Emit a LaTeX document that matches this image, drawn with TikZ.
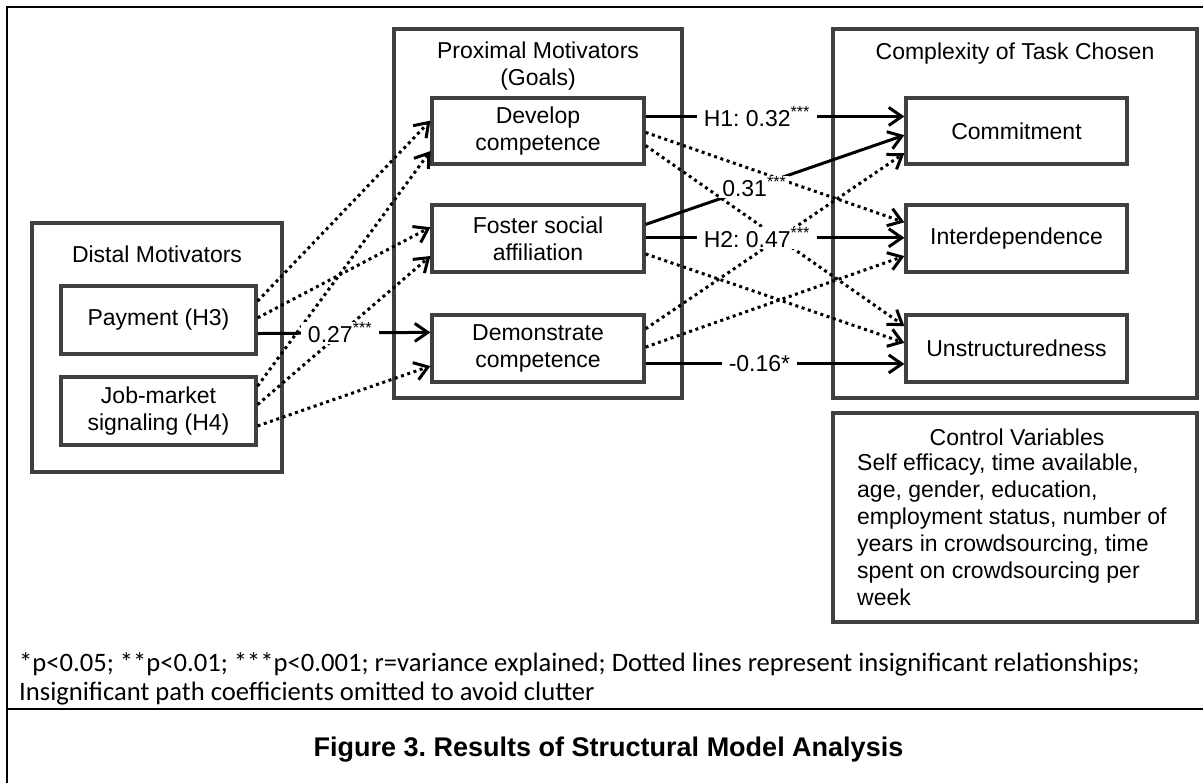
\documentclass[tikz,border=0pt]{standalone}
\usepackage{fontspec}
\setmainfont{Liberation Sans}
\newfontfamily\notefont{Carlito}
\usetikzlibrary{arrows.meta, calc}
\definecolor{boxgray}{HTML}{404040}
\frenchspacing

\tikzset{
    box/.style={draw=boxgray, line width=3.2pt, inner sep=0pt, align=center},
    sig/.style={line width=3pt, -{Straight Barb[length=13pt, width=18pt]}},
    insig/.style={sig, dash pattern=on 3pt off 3.6pt},
    coef/.style={fill=white, inner xsep=7pt, inner ysep=1pt},
}

\begin{document}
\begin{tikzpicture}[x=1pt, y=-1pt, every node/.style={font=\fontsize{23}{27}\selectfont}]
    \fill[white] (0,0) rectangle (1203,783);
    \useasboundingbox (0,0) rectangle (1203,783);
    % table frame
    \draw[line width=2.2pt] (1203,7) -- (7,7) -- (7,783);
    \draw[line width=2.2pt] (7,709) -- (1203,709);

    % distal motivators
    \node[box, minimum width=250, minimum height=249] (distal) at (157,347.5) {};
    \node (distaltitle) at (157,254) {Distal Motivators};
    \node[box, minimum width=195, minimum height=68] (payment) at (158.5,320) {Payment (H3)};
    \node[box, minimum width=195, minimum height=68] (jobmarket) at (158.5,411) {Job-market\\signaling (H4)};

    % proximal motivators
    \node[box, minimum width=288, minimum height=369] (proximal) at (538,213.5) {};
    \node[align=center] (proximaltitle) at (538,66.5) {Proximal Motivators\\(Goals)};
    \node[box, minimum width=212, minimum height=66] (develop) at (538,131) {Develop\\competence};
    \node[box, minimum width=212, minimum height=67] (foster) at (538,238.5) {Foster social\\affiliation};
    \node[box, minimum width=212, minimum height=67] (demonstrate) at (538,348.5) {Demonstrate\\competence};

    % task complexity
    \node[box, minimum width=364, minimum height=369] (complexity) at (1015,213.5) {};
    \node (complexitytitle) at (1015,54) {Complexity of Task Chosen};
    \node[box, minimum width=221, minimum height=66] (commitment) at (1016.5,131) {Commitment};
    \node[box, minimum width=221, minimum height=67] (interdep) at (1016.5,238.5) {Interdependence};
    \node[box, minimum width=221, minimum height=67] (unstruct) at (1016.5,348.5) {Unstructuredness};

    % controls
    \node[box, minimum width=364, minimum height=209] (control) at (1015,517.5) {};
    \node (controltitle) at (1017,437) {Control Variables};
    \node[anchor=north west, align=left, inner sep=0pt] (controllist) at (857,454)
        {Self efficacy, time available,\\age, gender, education,\\employment status, number of\\years in crowdsourcing, time\\spent on crowdsourcing per\\week};

    % insignificant paths
    \foreach \from/\fa/\to/\ta in {payment/.235/develop/.35, payment/.47/foster/.34,
            jobmarket/.15/develop/.79, jobmarket/.41/foster/.75, jobmarket/.71/demonstrate/.75,
            develop/.52/interdep/.27, develop/.71/unstruct/.18, foster/.72/unstruct/.42,
            demonstrate/.22/commitment/.82, demonstrate/.48/interdep/.75}
        \draw[insig] ($(\from.north east)!\fa!(\from.south east)$) -- ($(\to.north west)!\ta!(\to.south west)$);

    % significant paths
    \draw[sig] ($(payment.north east)!.69!(payment.south east)$) -- ($(demonstrate.north west)!.27!(demonstrate.south west)$)
        node[coef, pos=.477] (c27) {0.27\textsuperscript{***}};
    \draw[sig] ($(develop.north east)!.29!(develop.south east)$) -- ($(commitment.north west)!.29!(commitment.south west)$)
        node[coef, pos=.43] (c32) {H1: 0.32\textsuperscript{***}};
    \draw[sig] ($(foster.north east)!.30!(foster.south east)$) -- ($(commitment.north west)!.56!(commitment.south west)$)
        node[coef, pos=.42, inner xsep=3pt] (c31) {0.31\textsuperscript{***}};
    \draw[sig] ($(foster.north east)!.49!(foster.south east)$) -- ($(interdep.north west)!.49!(interdep.south west)$)
        node[coef, pos=.43] (c47) {H2: 0.47\textsuperscript{***}};
    \draw[sig] ($(demonstrate.north east)!.72!(demonstrate.south east)$) -- ($(unstruct.north west)!.72!(unstruct.south west)$)
        node[coef, pos=.44] (c16) {-0.16*};

    % footnote and caption
    \node[anchor=north west, align=left, inner sep=0pt, font=\notefont\fontsize{26.6}{29}\selectfont] (note) at (19,652)
        {*p<0.05; **p<0.01; ***p<0.001; r=variance explained; Dotted lines represent insignificant relationships;\\Insignificant path coefficients omitted to avoid clutter};
    \node[font=\bfseries\fontsize{27}{30}\selectfont] (caption) at (608.5,750) {Figure 3. Results of Structural Model Analysis};
\end{tikzpicture}
\end{document}
